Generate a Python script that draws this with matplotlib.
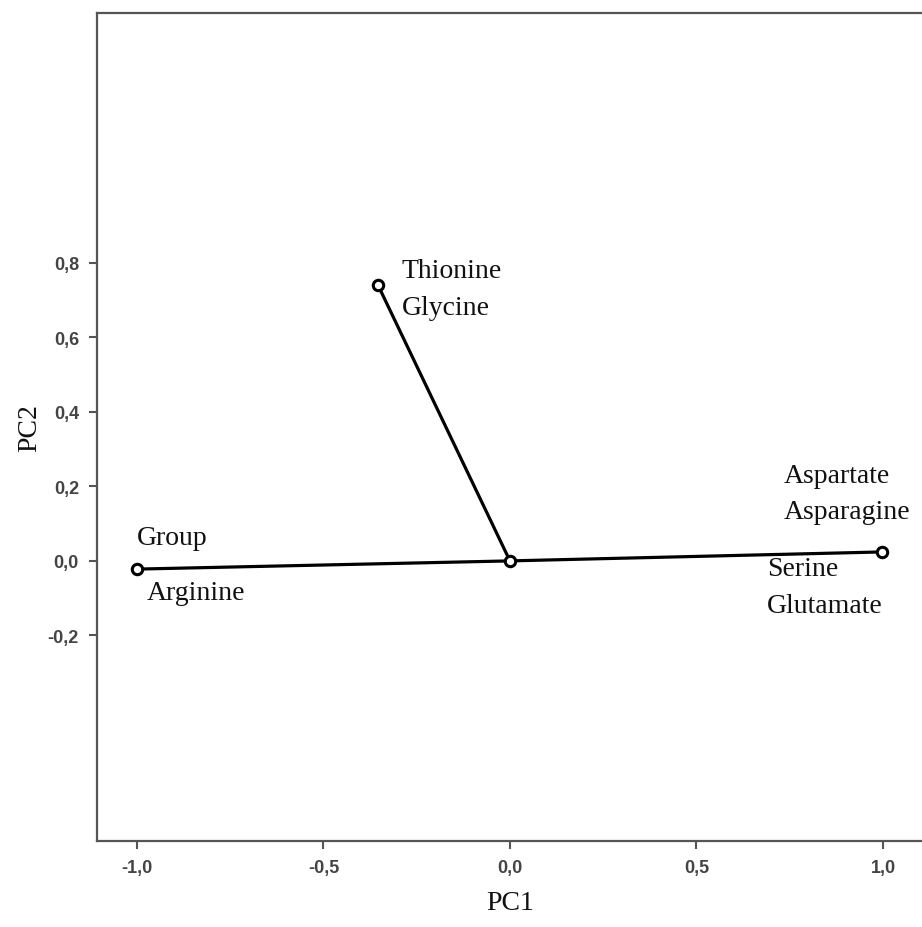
import numpy as np
import matplotlib.pyplot as plt

# loadings
pc1 = np.array([-1.0, -0.354, 0.997])
pc2 = np.array([-0.022, 0.74, 0.024])
point_labels = [["Group", "Arginine"], ["Thionine", "Glycine"],
                ["Aspartate", "Asparagine", "Serine", "Glutamate"]]
# offsets of each label from its point (pixels)
label_offsets = [[(0, 32), (10, -23)], [(24, 14), (24, -23)],
                 [(-98, 76), (-98, 40), (-115, -17), (-115, -54)]]

xticks = [-1.0, -0.5, 0.0, 0.5, 1.0]
yticks = [-0.2, 0.0, 0.2, 0.4, 0.6, 0.8]

serif = ["Liberation Serif", "DejaVu Serif"]
spine_col = "#555555"


def fmt(v):
    return ("%.1f" % v).replace(".", ",")


def main():
    fig = plt.figure(figsize=(9.22, 9.28), dpi=100)
    ax = fig.add_axes([97 / 922, 1 - 842 / 928, (924 - 97) / 922, (842 - 14) / 928])

    for x, y in zip(pc1, pc2):
        ax.plot([0, x], [0, y], color="black", lw=2.3, solid_capstyle="round", zorder=2)
    ax.plot(np.r_[pc1, 0], np.r_[pc2, 0], "o", ms=7.5, mfc="white", mec="black", mew=2.2,
            linestyle="none", zorder=3)

    for x, y, labs, offs in zip(pc1, pc2, point_labels, label_offsets):
        for lab, off in zip(labs, offs):
            ax.annotate(lab, (x, y), xytext=off, textcoords="offset pixels",
                        ha="left", va="center", fontsize=20, family=serif, color="#111111")

    ax.set_xlim(-1.107, 1.110)
    ax.set_ylim(-0.751, 1.469)
    ax.set_xticks(xticks)
    ax.set_xticklabels([fmt(v) for v in xticks])
    ax.set_yticks(yticks)
    ax.set_yticklabels([fmt(v) for v in yticks])
    ax.tick_params(direction="out", length=6, width=1.5, color=spine_col,
                   labelsize=13, labelcolor="#444444", pad=7)
    for t in ax.get_xticklabels() + ax.get_yticklabels():
        t.set_family("Liberation Sans")
        t.set_fontweight("bold")
    for s in ax.spines.values():
        s.set_color(spine_col)
        s.set_linewidth(1.6)

    ax.set_xlabel("PC1", fontsize=20, family=serif, color="#111111", labelpad=10)
    ax.set_ylabel("PC2", fontsize=20, family=serif, color="#111111", labelpad=4)

    fig.savefig("out.png", dpi=100)


if __name__ == "__main__":
    main()
